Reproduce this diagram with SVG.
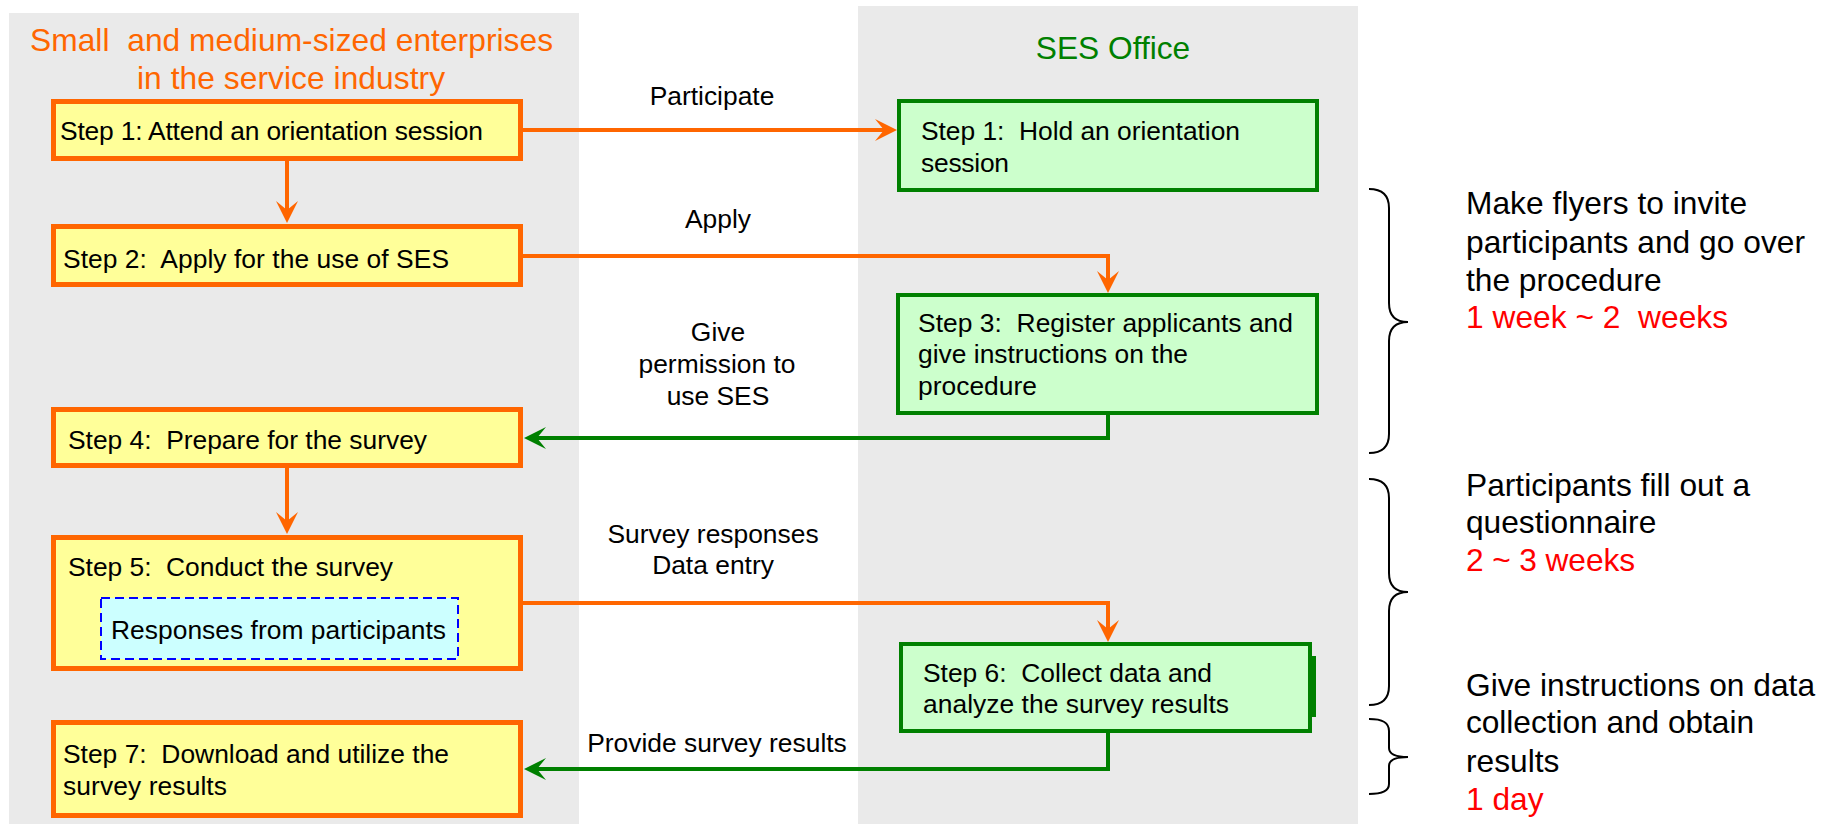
<svg xmlns="http://www.w3.org/2000/svg" width="1822" height="824" viewBox="0 0 1822 824">
  <style>
    text { font-family: "Liberation Sans", Arial, sans-serif; }
    .lane { fill: #eaeaea; }
    .title { font-size: 31.7px; }
    .title-org { fill: #ff6600; }
    .title-ses { fill: #008000; }
    .step { font-size: 26.4px; fill: #000; }
    .label { font-size: 26.4px; fill: #000; text-anchor: middle; }
    .note { font-size: 31.7px; fill: #000; }
    .time { font-size: 31.7px; fill: #ff0000; }
    .box-org { fill: #ffff99; stroke: #ff6600; stroke-width: 5; }
    .box-ses { fill: #ccffcc; stroke: #008000; stroke-width: 4; }
    .box-sub { fill: #ccffff; stroke: #0000ff; stroke-width: 2; stroke-dasharray: 9 5; }
    .flow-org { fill: none; stroke: #ff6600; stroke-width: 4; marker-end: url(#head-org); }
    .flow-ses { fill: none; stroke: #008000; stroke-width: 4; marker-end: url(#head-ses); }
    .brace { fill: none; stroke: #000; stroke-width: 2; }
  </style>
  <defs>
    <marker id="head-org" markerUnits="userSpaceOnUse" markerWidth="24" markerHeight="24" viewBox="-23 -12 24 24" refX="-8" refY="0" orient="auto">
      <path d="M0,0 L-22,-11 L-13,0 L-22,11 Z" fill="#ff6600"/>
    </marker>
    <marker id="head-ses" markerUnits="userSpaceOnUse" markerWidth="24" markerHeight="24" viewBox="-23 -12 24 24" refX="-8" refY="0" orient="auto">
      <path d="M0,0 L-22,-11 L-13,0 L-22,11 Z" fill="#008000"/>
    </marker>
  </defs>

  <rect width="1822" height="824" fill="#ffffff"/>

  <!-- swim lanes -->
  <g id="lane-enterprises">
    <rect class="lane" x="9" y="13" width="570" height="811"/>
    <text class="title title-org" x="30" y="51" textLength="523" xml:space="preserve">Small  and medium-sized enterprises</text>
    <text class="title title-org" x="137" y="89" textLength="308">in the service industry</text>
  </g>
  <g id="lane-ses">
    <rect class="lane" x="858" y="6" width="500" height="818"/>
    <text class="title title-ses" x="1113" y="59" text-anchor="middle">SES Office</text>
  </g>

  <!-- connectors -->
  <g id="connectors">
    <path class="flow-org" d="M287,161 V215"/>
    <path class="flow-org" d="M287,468 V526"/>
    <path class="flow-org" d="M523,130 H889"/>
    <path class="flow-org" d="M523,256 H1108 V285"/>
    <path class="flow-ses" d="M1108,415 V438 H532"/>
    <path class="flow-org" d="M523,603 H1108 V634"/>
    <path class="flow-ses" d="M1108,733 V769 H532"/>
    <text class="label" x="712" y="105">Participate</text>
    <text class="label" x="718" y="228">Apply</text>
    <text class="label" x="718" y="341">Give</text>
    <text class="label" x="717" y="373">permission to</text>
    <text class="label" x="718" y="405">use SES</text>
    <text class="label" x="713" y="543">Survey responses</text>
    <text class="label" x="713" y="574">Data entry</text>
    <text class="label" x="717" y="752">Provide survey results</text>
  </g>

  <!-- enterprise steps -->
  <g id="step1-attend">
    <rect class="box-org" x="53.5" y="101.5" width="467" height="57"/>
    <text class="step" x="60" y="140" textLength="423">Step 1: Attend an orientation session</text>
  </g>
  <g id="step2-apply">
    <rect class="box-org" x="53.5" y="226.5" width="467" height="58"/>
    <text class="step" x="63" y="268" textLength="386" xml:space="preserve">Step 2:  Apply for the use of SES</text>
  </g>
  <g id="step4-prepare">
    <rect class="box-org" x="53.5" y="409.5" width="467" height="56"/>
    <text class="step" x="68" y="449" textLength="359" xml:space="preserve">Step 4:  Prepare for the survey</text>
  </g>
  <g id="step5-conduct">
    <rect class="box-org" x="53.5" y="537.5" width="467" height="131"/>
    <text class="step" x="68" y="576" textLength="325" xml:space="preserve">Step 5:  Conduct the survey</text>
    <g id="responses">
      <rect class="box-sub" x="101" y="598" width="357" height="61"/>
      <text class="step" x="111" y="639" textLength="335">Responses from participants</text>
    </g>
  </g>
  <g id="step7-download">
    <rect class="box-org" x="53.5" y="722.5" width="467" height="93"/>
    <text class="step" x="63" y="763" textLength="386" xml:space="preserve">Step 7:  Download and utilize the</text>
    <text class="step" x="63" y="795" textLength="164">survey results</text>
  </g>

  <!-- SES office steps -->
  <g id="ses-step1-hold">
    <rect class="box-ses" x="899" y="101" width="418" height="89"/>
    <text class="step" x="921" y="140" textLength="319" xml:space="preserve">Step 1:  Hold an orientation</text>
    <text class="step" x="921" y="172" textLength="88">session</text>
  </g>
  <g id="ses-step3-register">
    <rect class="box-ses" x="898" y="295" width="419" height="118"/>
    <text class="step" x="918" y="332" textLength="375" xml:space="preserve">Step 3:  Register applicants and</text>
    <text class="step" x="918" y="363" textLength="270">give instructions on the</text>
    <text class="step" x="918" y="395" textLength="119">procedure</text>
  </g>
  <g id="ses-step6-collect">
    <rect class="box-ses" x="901" y="644" width="409" height="87"/>
    <rect x="1312" y="656" width="4" height="61" fill="#008000"/>
    <text class="step" x="923" y="682" textLength="289" xml:space="preserve">Step 6:  Collect data and</text>
    <text class="step" x="923" y="713" textLength="306">analyze the survey results</text>
  </g>

  <!-- time spans -->
  <g id="span-preparation">
    <path class="brace" d="M1369,189 C1382,189 1389,195 1389,208 V303 C1389,316 1396,322 1408,322 C1396,322 1389,328 1389,341 V434 C1389,447 1382,453 1369,453"/>
    <text class="note" x="1466" y="214" textLength="281">Make flyers to invite</text>
    <text class="note" x="1466" y="253" textLength="339">participants and go over</text>
    <text class="note" x="1466" y="291">the procedure</text>
    <text class="time" x="1466" y="328" textLength="262" xml:space="preserve">1 week ~ 2  weeks</text>
  </g>
  <g id="span-survey">
    <path class="brace" d="M1369,479 C1382,479 1389,485 1389,498 V573 C1389,586 1396,592 1408,592 C1396,592 1389,598 1389,611 V686 C1389,699 1382,705 1369,705"/>
    <text class="note" x="1466" y="496" textLength="284">Participants fill out a</text>
    <text class="note" x="1466" y="533">questionnaire</text>
    <text class="time" x="1466" y="571" textLength="169">2 ~ 3 weeks</text>
  </g>
  <g id="span-results">
    <path class="brace" d="M1369,719 C1382,719 1389,722 1389,731 V748 C1389,754 1396,757 1408,757 C1396,757 1389,760 1389,766 V784 C1389,791 1382,794 1369,794"/>
    <text class="note" x="1466" y="696" textLength="349">Give instructions on data</text>
    <text class="note" x="1466" y="733" textLength="288">collection and obtain</text>
    <text class="note" x="1466" y="772">results</text>
    <text class="time" x="1466" y="810">1 day</text>
  </g>
</svg>
